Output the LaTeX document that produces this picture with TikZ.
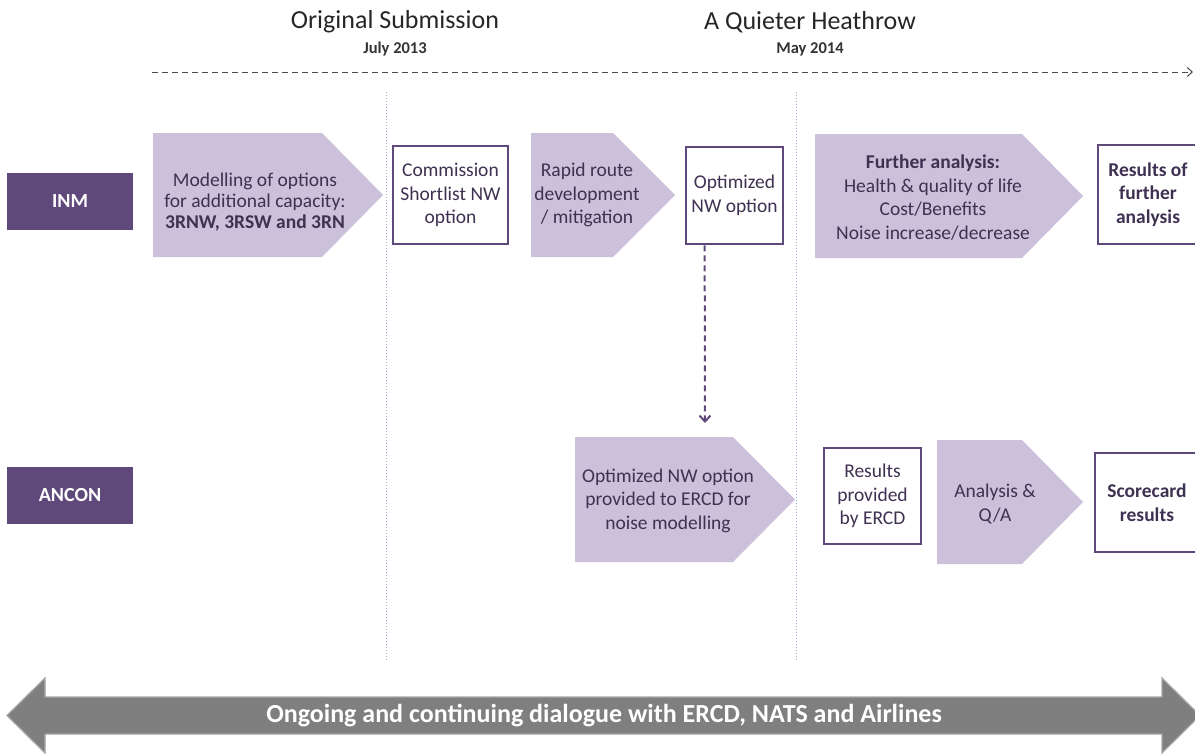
\documentclass[tikz,border=0pt]{standalone}
\usepackage{fontspec}
\setmainfont{Carlito}
\usetikzlibrary{calc,arrows.meta}

\definecolor{darkpurple}{HTML}{5F497A}
\definecolor{lightpurple}{HTML}{CCC1DA}
\definecolor{textpurple}{HTML}{3F3151}
\definecolor{guideblue}{HTML}{95B3D7}
\definecolor{bandgray}{HTML}{7F7F7F}
\definecolor{bandedge}{HTML}{A6A6A6}

\tikzset{
	lane/.style={fill=darkpurple, text=white, inner sep=0pt,
		minimum width=126pt, minimum height=57pt,
		font=\fontsize{20}{24}\selectfont\bfseries},
	stagetext/.style={text=textpurple, align=center, inner sep=0pt,
		font=\fontsize{19.5}{23.5}\selectfont},
	outcome/.style={draw=darkpurple, line width=2.5pt, fill=white,
		text=textpurple, align=center, inner sep=0pt,
		font=\fontsize{19.5}{23.5}\selectfont},
	guide/.style={guideblue, dotted, line width=1pt},
	heading/.style={font=\fontsize{26}{30}\selectfont, text=black!85},
	subheading/.style={font=\fontsize{16.5}{20}\selectfont\bfseries, text=black!80},
}

\begin{document}
\begin{tikzpicture}[x=1pt, y=-1pt]
	\useasboundingbox (0,0) rectangle (1195,753);

	% Заголовки этапов
	\node[heading] (orig) at (395,22) {Original Submission};
	\node[subheading] (origdate) at (395,49) {July 2013};
	\node[heading] (quiet) at (810,22) {A Quieter Heathrow};
	\node[subheading] (quietdate) at (810,49) {May 2014};

	% Ось времени
	\coordinate (tlstart) at (152,72);
	\coordinate (tlend) at (1193,72);
	\draw[black!70, line width=1pt, dash pattern=on 6pt off 4pt, -{Straight Barb[length=5pt, width=9pt]}] (tlstart) -- (tlend);

	% Границы этапов
	\draw[guide] (386,92) -- (386,660);
	\draw[guide] (796,92) -- (796,660);

	% Дорожки
	\node[lane] (inm) at (70,201) {INM};
	\node[lane] (ancon) at (70,495.5) {ANCON};

	% Ряд INM
	\fill[lightpurple] (153,133) -- (322,133) -- (383,195) -- (322,257) -- (153,257) -- cycle;
	\node[stagetext, font=\fontsize{19.5}{21}\selectfont] (model) at (255,202)
		{Modelling of options\\for additional capacity:\\\textbf{3RNW, 3RSW and 3RN}};

	\node[outcome, minimum width=115pt, minimum height=98pt] (shortlist) at (450.5,195)
		{Commission\\Shortlist NW\\option};

	\fill[lightpurple] (531,133) -- (613,133) -- (675,195) -- (613,257) -- (531,257) -- cycle;
	\node[stagetext] (rapid) at (587,195) {Rapid route\\development\\/ mitigation};

	\node[outcome, minimum width=97pt, minimum height=97pt] (optnw) at (734.5,195.5)
		{Optimized\\NW option};

	\fill[lightpurple] (815,134) -- (1022,134) -- (1083,196) -- (1022,258) -- (815,258) -- cycle;
	\node[stagetext] (further) at (933,197.5)
		{\textbf{Further analysis:}\\Health \& quality of life\\Cost/Benefits\\Noise increase/decrease};

	\node[outcome, minimum width=100pt, minimum height=99pt, font=\fontsize{19.5}{23.5}\selectfont\bfseries] (furtherres) at (1148,194.5)
		{Results of\\further\\analysis};

	% Передача в ANCON
	\coordinate (dropend) at (705,423);
	\draw[darkpurple, line width=2pt, dash pattern=on 6pt off 4pt, -{Straight Barb[length=6pt, width=11pt]}]
		($(optnw.south west)!0.2!(optnw.south east)$) -- (dropend);

	% Ряд ANCON
	\fill[lightpurple] (575,437) -- (733,437) -- (795,499.5) -- (733,562) -- (575,562) -- cycle;
	\node[stagetext] (provided) at (668,500.5)
		{Optimized NW option\\provided to ERCD for\\noise modelling};

	\node[outcome, minimum width=97pt, minimum height=96pt] (ercdres) at (872.5,496)
		{Results\\provided\\by ERCD};

	\fill[lightpurple] (937,440) -- (1022,440) -- (1083,502) -- (1022,564) -- (937,564) -- cycle;
	\node[stagetext] (qa) at (995,504) {Analysis \&\\Q/A};

	\node[outcome, minimum width=104pt, minimum height=99pt, font=\fontsize{19.5}{23.5}\selectfont\bfseries] (scorecard) at (1147,502.5)
		{Scorecard\\results};

	% Постоянный диалог
	\fill[bandgray, draw=bandedge, line width=1.2pt] (7,715.5) -- (45,678) -- (45,697) -- (1162,697) -- (1162,678)
		-- (1200,715.5) -- (1162,753) -- (1162,734) -- (45,734) -- (45,753) -- cycle;
	\node[text=white, font=\fontsize{26}{30}\selectfont\bfseries] (dialogue) at (604,716)
		{Ongoing and continuing dialogue with ERCD, NATS and Airlines};

\end{tikzpicture}
\end{document}
